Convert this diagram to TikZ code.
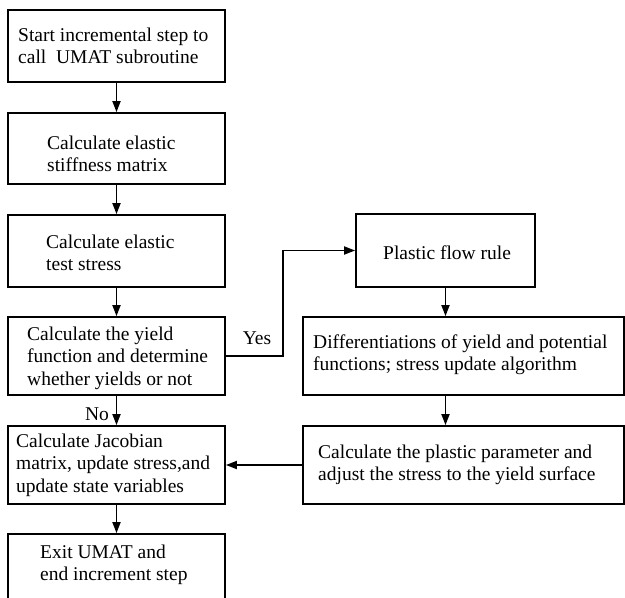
\documentclass[tikz,border=0pt]{standalone}
\usepackage{fontspec}
\setmainfont{Liberation Serif}
\usetikzlibrary{arrows.meta}
\begin{document}
\begin{tikzpicture}[x=1pt,y=-1pt,
  box/.style={draw,line width=1.8pt,rectangle,inner sep=0pt},
  txt/.style={anchor=west,align=left,inner sep=0pt,font=\fontsize{19.5}{22.5}\selectfont},
  lbl/.style={inner sep=0pt,font=\fontsize{19.5}{22.5}\selectfont},
  arr/.style={line width=1.8pt,-{Triangle[length=11pt,width=8pt]}}]
\useasboundingbox (0,0) rectangle (625,598);
% left column
\node[box,minimum width=217pt,minimum height=72pt] (b1) at (116.5,46) {};
\node[box,minimum width=217pt,minimum height=71pt] (b2) at (116.5,148.5) {};
\node[box,minimum width=217pt,minimum height=72pt] (b3) at (116.5,251) {};
\node[box,minimum width=217pt,minimum height=78pt] (b4) at (116.5,356) {};
\node[box,minimum width=217pt,minimum height=78pt] (b5) at (116.5,465) {};
\node[box,minimum width=217pt,minimum height=72pt] (b6) at (116.5,570) {};
% right column
\node[box,minimum width=179pt,minimum height=73pt] (r1) at (445.5,250.5) {};
\node[box,minimum width=321pt,minimum height=78pt] (r2) at (463.5,356) {};
\node[box,minimum width=321pt,minimum height=78pt] (r3) at (463.5,465) {};
% texts
\node[txt] (t1) at (18,46) {Start incremental step to\\call\ \ UMAT subroutine};
\node[txt] (t2) at (47,154) {Calculate elastic\\stiffness matrix};
\node[txt] (t3) at (46,253) {Calculate elastic\\test stress};
\node[txt] (t4) at (27,358) {Calculate the yield\\function and determine\\whether yields or not};
\node[txt] (t5) at (16,465) {Calculate Jacobian\\matrix, update stress,and\\update state variables};
\node[txt] (t6) at (40,565) {Exit UMAT and\\end increment step};
\node[txt] (t7) at (383,253) {Plastic flow rule};
\node[txt] (t8) at (313,354.5) {Differentiations of yield and potential\\functions; stress update algorithm};
\node[txt] (t9) at (318,465) {Calculate the plastic parameter and\\adjust the stress to the yield surface};
% arrows
\draw[arr] (b1.south) -- (b2.north);
\draw[arr] (b2.south) -- (b3.north);
\draw[arr] (b3.south) -- (b4.north);
\draw[arr] (b4.south) -- (b5.north);
\draw[arr] (b5.south) -- (b6.north);
\draw[arr] (b4.east) -- (283,356) |- (r1.west);
\draw[arr] (r1.south) -- (r1.south |- r2.north);
\draw[arr] (r1.south |- r2.south) -- (r1.south |- r3.north);
\draw[arr] (r3.west) -- (b5.east);
\node[lbl] (yes) at (257,338) {Yes};
\node[lbl] (no) at (97,414) {No};
\end{tikzpicture}
\end{document}
